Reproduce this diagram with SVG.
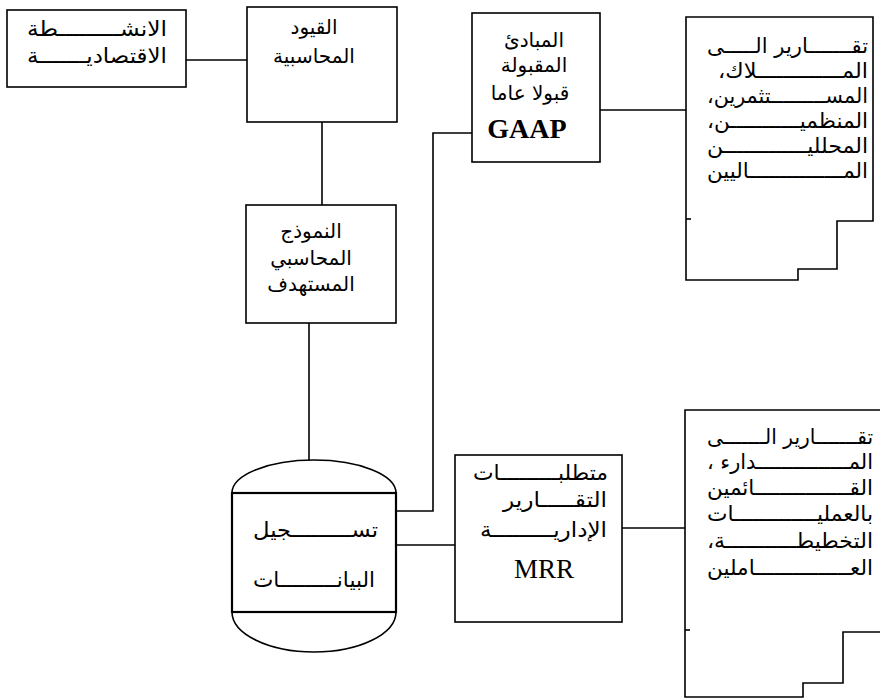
<svg xmlns="http://www.w3.org/2000/svg" width="880" height="699" viewBox="0 0 880 699">
<style>
.bx{fill:#fff;stroke:#000;stroke-width:1.6}
.ln{fill:none;stroke:#000;stroke-width:1.6}
.ar{font-family:"DejaVu Sans","Noto Sans",sans-serif;font-size:21px;fill:#000;direction:rtl}
.sm{font-size:20px}
.c{text-anchor:middle}
.r{text-anchor:start}
.lat{font-family:"Liberation Serif","DejaVu Serif",serif;fill:#000;text-anchor:middle}
</style>
<rect width="880" height="699" fill="#fff"/>
<g id="connectors">
<path class="ln" d="M186,60 H247"/>
<path class="ln" d="M322,122 V205"/>
<path class="ln" d="M309,323 V493"/>
<path class="ln" d="M396,511 H433 V133 H472"/>
<path class="ln" d="M600,110 H686"/>
<path class="ln" d="M396,545 H455"/>
<path class="ln" d="M622,528 H685"/>
</g>
<g id="n-activities">
<rect class="bx" x="7" y="10" width="179" height="77"/>
<text class="ar r" x="167" y="36" textLength="140" lengthAdjust="spacingAndGlyphs">الانشـــــــــطة</text>
<text class="ar r" x="167" y="63" textLength="140" lengthAdjust="spacingAndGlyphs">الاقتصاديـــــــة</text>
</g>
<g id="n-entries">
<rect class="bx" x="247" y="7" width="150" height="115"/>
<text class="ar sm c" x="314" y="34">القيود</text>
<text class="ar sm c" x="314" y="63">المحاسبية</text>
</g>
<g id="n-model">
<rect class="bx" x="246" y="205" width="150" height="118"/>
<text class="ar sm c" x="311" y="238">النموذج</text>
<text class="ar sm c" x="311" y="265">المحاسبي</text>
<text class="ar sm c" x="311" y="291">المستهدف</text>
</g>
<g id="n-gaap">
<rect class="bx" x="472" y="13" width="128" height="149"/>
<text class="ar sm c" x="534" y="47">المبادئ</text>
<text class="ar sm c" x="534" y="72">المقبولة</text>
<text class="ar sm c" x="530" y="100">قبولا عاما</text>
<text class="lat" x="527" y="138" font-size="28" font-weight="bold">GAAP</text>
</g>
<g id="n-reports1">
<path class="bx" d="M686,17 H873 V221 H837 V269 H798 V280 H686 Z"/>
<path class="ln" d="M686,219 H691"/>
<text class="ar r" x="868" y="53" textLength="161" lengthAdjust="spacingAndGlyphs">تقـــــــارير الـــــى</text>
<text class="ar r" x="868" y="78" textLength="150" lengthAdjust="spacingAndGlyphs">المـــــــــــــلاك،</text>
<text class="ar r" x="868" y="103" textLength="161" lengthAdjust="spacingAndGlyphs">المســـــــــتثمرين،</text>
<text class="ar r" x="868" y="128" textLength="161" lengthAdjust="spacingAndGlyphs">المنظميـــــــــــن،</text>
<text class="ar r" x="868" y="153" textLength="161" lengthAdjust="spacingAndGlyphs">المحلليـــــــــــــن</text>
<text class="ar r" x="868" y="178" textLength="161" lengthAdjust="spacingAndGlyphs">المـــــــــــــــاليين</text>
</g>
<g id="n-data">
<path class="bx" d="M232,493 A82,33 0 0 1 396,493 Z"/>
<path class="bx" d="M232,612 A82,40 0 0 0 396,612 Z"/>
<rect class="bx" x="232" y="493" width="164" height="119" style="stroke-width:2.2"/>
<text class="ar r" x="378" y="537" textLength="125" lengthAdjust="spacingAndGlyphs">تســـــــــجيل</text>
<text class="ar r" x="375" y="587" textLength="122" lengthAdjust="spacingAndGlyphs">البيانـــــــــات</text>
</g>
<g id="n-mrr">
<rect class="bx" x="455" y="455" width="167" height="167"/>
<text class="ar r" x="608" y="480" textLength="135" lengthAdjust="spacingAndGlyphs">متطلبـــــــــات</text>
<text class="ar r" x="607" y="507" textLength="104" lengthAdjust="spacingAndGlyphs">التقـــــارير</text>
<text class="ar r" x="607" y="537" textLength="127" lengthAdjust="spacingAndGlyphs">الإداريـــــــــة</text>
<text class="lat" x="544" y="578" font-size="27">MRR</text>
</g>
<g id="n-reports2">
<path class="ln" d="M880,410 H685 V697 H803 V683 H843 V632 H880"/>
<path class="ln" d="M685,630 H690"/>
<text class="ar r" x="873" y="444" textLength="166" lengthAdjust="spacingAndGlyphs">تقـــــــارير الـــــــى</text>
<text class="ar r" x="873" y="469" textLength="166" lengthAdjust="spacingAndGlyphs">المـــــــــــــــدارء ،</text>
<text class="ar r" x="873" y="495" textLength="166" lengthAdjust="spacingAndGlyphs">القـــــــــــــــائمين</text>
<text class="ar r" x="873" y="521" textLength="166" lengthAdjust="spacingAndGlyphs">بالعمليـــــــــــــات</text>
<text class="ar r" x="873" y="548" textLength="166" lengthAdjust="spacingAndGlyphs">التخطيطـــــــــــة،</text>
<text class="ar r" x="873" y="575" textLength="166" lengthAdjust="spacingAndGlyphs">العـــــــــــــــاملين</text>
</g>
</svg>
